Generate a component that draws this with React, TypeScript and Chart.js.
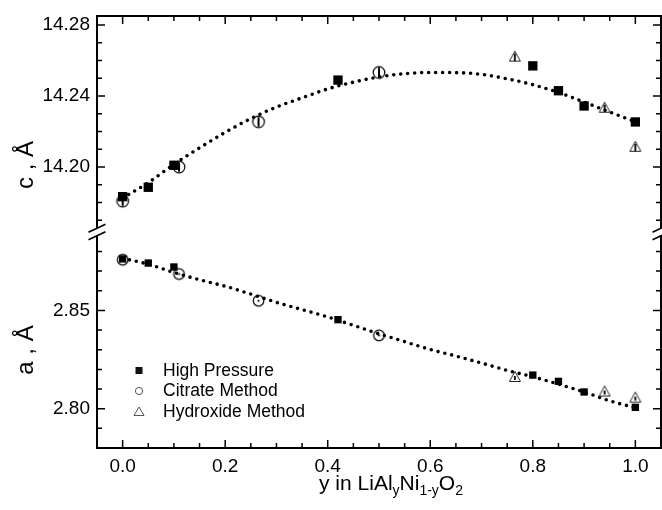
import React, { useEffect, useRef } from 'react';
import { Chart, registerables } from 'chart.js';

Chart.register(...registerables);

// ---------- data ----------
const highPressureY = [0.0, 0.05, 0.1, 0.42, 0.8, 0.85, 0.9, 1.0];
const highPressureC = [14.1833, 14.1886, 14.201, 14.249, 14.257, 14.243, 14.2344, 14.2254];
const highPressureA = [2.8762, 2.8741, 2.8721, 2.8453, 2.8171, 2.8139, 2.8085, 2.8007];

const citrateY = [0.0, 0.11, 0.265, 0.5];
const citrateC = [14.1808, 14.2, 14.2255, 14.2533];
const citrateA = [2.8758, 2.8685, 2.8549, 2.8373];

const hydroxideY = [0.765, 0.94, 1.0];
const hydroxideC = [14.2625, 14.2337, 14.2117];
const hydroxideA = [2.8164, 2.809, 2.8059];

const fitY = [0, 0.05, 0.1, 0.15, 0.2, 0.25, 0.3, 0.35, 0.4, 0.45, 0.5, 0.55, 0.6, 0.65, 0.7, 0.75, 0.8, 0.85, 0.9, 0.95, 1.0];
const fitC = [14.1825, 14.1912, 14.2015, 14.2108, 14.2195, 14.2273, 14.2338, 14.239, 14.244, 14.2478, 14.2508, 14.2526, 14.2533, 14.2532, 14.2522, 14.2497, 14.2464, 14.242, 14.2366, 14.231, 14.2255];
const fitA = [2.8765, 2.8735, 2.8693, 2.8656, 2.8623, 2.8583, 2.8541, 2.8504, 2.8467, 2.8424, 2.8381, 2.8341, 2.8301, 2.8268, 2.8232, 2.8195, 2.8162, 2.8125, 2.8085, 2.804, 2.8005];

const legendLabels = ['High Pressure', 'Citrate Method', 'Hydroxide Method'];
const cTitle = 'c , Å';
const aTitle = 'a , Å';

const xRange = [-0.05, 1.05];
const xMajorStep = 0.2;
const xMinorStep = 0.05;
const cRange = [14.1634, 14.2851];
const cMajorStep = 0.04;
const aRange = [2.78, 2.8899];
const aMajorStep = 0.05;
const yMinorStep = 0.01;

const FONT = '"Liberation Sans", Arial, Helvetica, sans-serif';

const pts = (xs: number[], ys: number[]) => xs.map((x, i) => ({ x, y: ys[i] }));

function circleMarker(r: number, inner: 'bar' | 'dot') {
  const size = Math.ceil(2 * r + 4);
  const c = document.createElement('canvas');
  c.width = size;
  c.height = size;
  const g = c.getContext('2d')!;
  const m = size / 2;
  g.strokeStyle = '#000';
  g.lineWidth = 1.2;
  g.beginPath();
  g.arc(m, m, r, 0, Math.PI * 2);
  g.stroke();
  if (inner === 'bar') {
    g.lineWidth = 2;
    g.beginPath();
    g.moveTo(m, m - r + 1);
    g.lineTo(m, m + r - 1);
    g.stroke();
  } else {
    g.fillStyle = '#000';
    g.beginPath();
    g.arc(m, m, 1.1, 0, Math.PI * 2);
    g.fill();
  }
  return c;
}

function triangleMarker(w: number, h: number, inner: 'bar' | 'short') {
  const cw = Math.ceil(w + 3);
  const ch = Math.ceil(h + 3);
  const c = document.createElement('canvas');
  c.width = cw;
  c.height = ch;
  const g = c.getContext('2d')!;
  const m = cw / 2;
  const top = 1.5;
  const bot = 1.5 + h;
  g.strokeStyle = '#222';
  g.lineWidth = 1;
  g.beginPath();
  g.moveTo(m, top);
  g.lineTo(m + w / 2, bot);
  g.lineTo(m - w / 2, bot);
  g.closePath();
  g.stroke();
  g.strokeStyle = '#000';
  g.lineWidth = 1.8;
  g.beginPath();
  if (inner === 'bar') {
    g.moveTo(m, top + 2.5);
    g.lineTo(m, bot);
  } else {
    g.moveTo(m, top + h * 0.45);
    g.lineTo(m, bot - 1.5);
  }
  g.stroke();
  return c;
}

const framePlugin = {
  id: 'framePlugin',
  afterDatasetsDraw(chart: any) {
    const { ctx, chartArea: ca, scales } = chart;
    const xs = scales.x;
    const yc = scales.yc;
    const ya = scales.ya;
    const breakY = Math.round((yc.bottom + ya.top) / 2);
    ctx.save();
    ctx.strokeStyle = '#000';
    ctx.lineCap = 'butt';
    // frame
    ctx.lineWidth = 2;
    ctx.beginPath();
    ctx.moveTo(ca.left - 1, ca.top);
    ctx.lineTo(ca.right + 1, ca.top);
    ctx.moveTo(ca.left - 1, ca.bottom);
    ctx.lineTo(ca.right + 1, ca.bottom);
    for (const xx of [ca.left, ca.right]) {
      ctx.moveTo(xx, ca.top);
      ctx.lineTo(xx, breakY - 4);
      ctx.moveTo(xx, breakY + 3.5);
      ctx.lineTo(xx, ca.bottom);
    }
    ctx.stroke();
    // break marks
    ctx.lineWidth = 1.6;
    ctx.beginPath();
    for (const xx of [ca.left, ca.right]) {
      for (const off of [-3.8, 3.8]) {
        ctx.moveTo(xx - 8.5, breakY + off + 4);
        ctx.lineTo(xx + 8.5, breakY + off - 4);
      }
    }
    ctx.stroke();
    // x ticks
    ctx.lineWidth = 1.5;
    ctx.beginPath();
    const nX = Math.round((xRange[1] - xRange[0]) / xMinorStep);
    for (let i = 0; i <= nX; i++) {
      const v = xRange[0] + i * xMinorStep;
      const px = xs.getPixelForValue(v);
      if (px <= ca.left + 2 || px >= ca.right - 2) continue;
      const isMajor = Math.abs(v / xMajorStep - Math.round(v / xMajorStep)) < 1e-6;
      const len = isMajor ? 8 : 5;
      ctx.moveTo(px, ca.bottom);
      ctx.lineTo(px, ca.bottom - len);
      ctx.moveTo(px, ca.top);
      ctx.lineTo(px, ca.top + len);
    }
    // y ticks
    const yTicks = (scale: any, range: number[], major: number) => {
      const start = Math.ceil(range[0] / yMinorStep - 1e-6);
      const end = Math.floor(range[1] / yMinorStep + 1e-6);
      for (let k = start; k <= end; k++) {
        const v = k * yMinorStep;
        const py = scale.getPixelForValue(v);
        if (py <= scale.top + 3 || py >= scale.bottom - 3) continue;
        const isMajor = Math.abs(v / major - Math.round(v / major)) < 1e-6;
        const len = isMajor ? 8 : 5;
        ctx.moveTo(ca.left, py);
        ctx.lineTo(ca.left + len, py);
        ctx.moveTo(ca.right, py);
        ctx.lineTo(ca.right - len, py);
      }
    };
    yTicks(yc, cRange, cMajorStep);
    yTicks(ya, aRange, aMajorStep);
    ctx.stroke();

    // axis titles
    ctx.fillStyle = '#000';
    ctx.font = `24px ${FONT}`;
    ctx.textAlign = 'center';
    ctx.textBaseline = 'alphabetic';
    const vTitle = (t: string, cy: number) => {
      ctx.save();
      ctx.translate(33, cy);
      ctx.rotate(-Math.PI / 2);
      ctx.fillText(t, 0, 0);
      ctx.restore();
    };
    vTitle(cTitle, 165);
    vTitle(aTitle, 350);

    // x title with subscripts
    const parts: [string, boolean][] = [
      ['y in LiAl', false],
      ['y', true],
      ['Ni', false],
      ['1-y', true],
      ['O', false],
      ['2', true],
    ];
    const big = `21px ${FONT}`;
    const small = `14px ${FONT}`;
    let total = 0;
    for (const [t, sub] of parts) {
      ctx.font = sub ? small : big;
      total += ctx.measureText(t).width;
    }
    let tx = 391 - total / 2;
    const baseY = 490;
    ctx.textAlign = 'left';
    for (const [t, sub] of parts) {
      ctx.font = sub ? small : big;
      ctx.fillText(t, tx, sub ? baseY + 5 : baseY);
      tx += ctx.measureText(t).width;
    }

    // legend
    const lx = 139;
    const ly = [370.5, 391, 411.5];
    ctx.fillStyle = '#111';
    ctx.fillRect(lx - 3.5, ly[0] - 3.5, 7, 7);
    ctx.strokeStyle = '#555';
    ctx.lineWidth = 1;
    ctx.beginPath();
    ctx.arc(lx, ly[1], 3.6, 0, Math.PI * 2);
    ctx.stroke();
    ctx.beginPath();
    ctx.moveTo(lx, ly[2] - 4.5);
    ctx.lineTo(lx + 5, ly[2] + 4);
    ctx.lineTo(lx - 5, ly[2] + 4);
    ctx.closePath();
    ctx.stroke();
    ctx.fillStyle = '#000';
    ctx.font = `17.5px ${FONT}`;
    ctx.textBaseline = 'middle';
    legendLabels.forEach((t, i) => ctx.fillText(t, 163, ly[i] + 0.5));
    ctx.restore();
  },
};

export default function App() {
  const ref = useRef<HTMLCanvasElement | null>(null);
  useEffect(() => {
    if (!ref.current) return;
    const circTop = circleMarker(5.8, 'bar');
    const circBot = circleMarker(5.3, 'dot');
    const triTop = triangleMarker(11, 10, 'bar');
    const triBot = triangleMarker(11, 10, 'short');
    const fitStyle = {
      showLine: true,
      pointRadius: 0,
      borderColor: '#000',
      borderWidth: 3.6,
      borderDash: [0, 7],
      borderCapStyle: 'round',
      cubicInterpolationMode: 'monotone',
      fill: false,
      order: 10,
    };
    const afterFitY = (s: any) => {
      s.width = 97;
      s.paddingTop = 0;
      s.paddingBottom = 0;
      s.paddingLeft = 0;
      s.paddingRight = 0;
    };
    const tickFont = { family: FONT, size: 19 };
    const chart = new Chart(ref.current, {
      type: 'scatter',
      data: {
        datasets: [
          { label: 'fitC', data: pts(fitY, fitC), yAxisID: 'yc', ...fitStyle } as any,
          { label: 'fitA', data: pts(fitY, fitA), yAxisID: 'ya', ...fitStyle } as any,
          {
            label: legendLabels[0], data: pts(highPressureY, highPressureC), yAxisID: 'yc',
            pointStyle: 'rect', pointRadius: 6.6, backgroundColor: '#000', borderColor: '#000', borderWidth: 0, order: 1,
          },
          {
            label: legendLabels[0] + ' a', data: pts(highPressureY, highPressureA), yAxisID: 'ya',
            pointStyle: 'rect', pointRadius: 5.2, backgroundColor: '#000', borderColor: '#000', borderWidth: 0, order: 3,
          },
          {
            label: legendLabels[1], data: pts(citrateY, citrateC), yAxisID: 'yc',
            pointStyle: circTop, pointRadius: 6, order: 0,
          },
          {
            label: legendLabels[1] + ' a', data: pts(citrateY, citrateA), yAxisID: 'ya',
            pointStyle: circBot, pointRadius: 6, order: 0,
          },
          {
            label: legendLabels[2], data: pts(hydroxideY, hydroxideC), yAxisID: 'yc',
            pointStyle: triTop, pointRadius: 6, order: 0,
          },
          {
            label: legendLabels[2] + ' a', data: pts(hydroxideY, hydroxideA), yAxisID: 'ya',
            pointStyle: triBot, pointRadius: 6, order: 0,
          },
        ] as any,
      },
      options: {
        animation: false,
        responsive: false,
        devicePixelRatio: 1,
        events: [],
        layout: { padding: { top: 16, right: 3, bottom: 0, left: 0 } },
        plugins: { legend: { display: false }, tooltip: { enabled: false } },
        scales: {
          x: {
            type: 'linear',
            min: xRange[0],
            max: xRange[1],
            grid: { display: false, drawTicks: false },
            border: { display: false },
            ticks: {
              stepSize: xMajorStep,
              includeBounds: false,
              padding: 7,
              color: '#000',
              font: tickFont,
              maxRotation: 0,
              autoSkip: false,
              callback: (v: any) => Math.abs(Number(v)).toFixed(1),
            },
            afterFit: (s: any) => {
              s.height = 62;
              s.paddingLeft = 0;
              s.paddingRight = 0;
              s.paddingTop = 0;
              s.paddingBottom = 0;
            },
          },
          ya: {
            type: 'linear',
            position: 'left',
            stack: 'lattice',
            stackWeight: 1,
            min: aRange[0],
            max: aRange[1],
            grid: { display: false, drawTicks: false },
            border: { display: false },
            ticks: {
              stepSize: aMajorStep,
              includeBounds: false,
              padding: 7,
              color: '#000',
              font: tickFont,
              autoSkip: false,
              callback: (v: any) => Number(v).toFixed(2),
            },
            afterFit: afterFitY,
          },
          yc: {
            type: 'linear',
            position: 'left',
            stack: 'lattice',
            stackWeight: 1,
            min: cRange[0],
            max: cRange[1],
            grid: { display: false, drawTicks: false },
            border: { display: false },
            ticks: {
              stepSize: cMajorStep,
              includeBounds: false,
              padding: 7,
              color: '#000',
              font: tickFont,
              autoSkip: false,
              callback: (v: any) => Number(v).toFixed(2),
            },
            afterFit: afterFitY,
          },
        } as any,
      },
      plugins: [framePlugin],
    });
    return () => chart.destroy();
  }, []);
  return (
    <div style={{ position: 'absolute', left: 0, top: 0, width: 662, height: 510, overflow: 'hidden', background: '#fff' }}>
      <canvas ref={ref} width={668} height={510} style={{ display: 'block' }} />
    </div>
  );
}
